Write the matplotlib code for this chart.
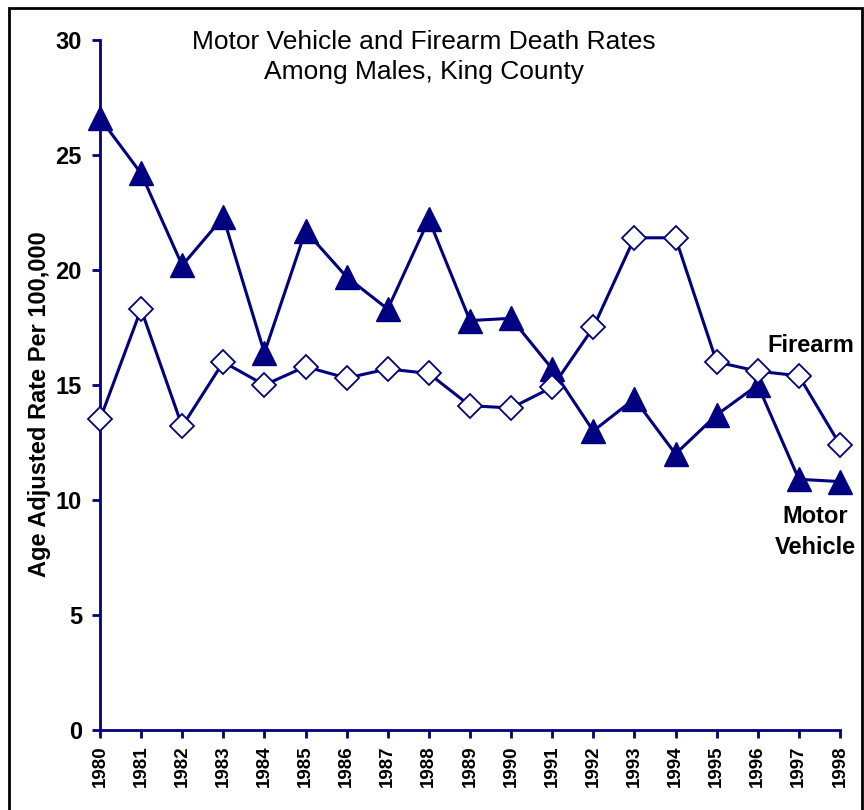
import matplotlib.pyplot as plt
from matplotlib.patches import Rectangle

plt.rcParams['font.family'] = ['Liberation Sans', 'DejaVu Sans']

years = list(range(1980, 1999))
motor_vehicle = [26.6, 24.2, 20.2, 22.3, 16.4, 21.7, 19.7, 18.3, 22.2, 17.8,
                 17.9, 15.7, 13.0, 14.4, 12.0, 13.7, 15.0, 10.9, 10.8]
firearm = [13.5, 18.3, 13.2, 16.0, 15.0, 15.8, 15.3, 15.7, 15.5, 14.1,
           14.0, 14.9, 17.5, 21.4, 21.4, 16.0, 15.6, 15.4, 12.4]

navy = '#000080'

fig = plt.figure(figsize=(8.64, 8.1), dpi=100)
ax = fig.add_axes([0.1157, 0.0988, 0.8565, 0.8518])

ax.plot(years, motor_vehicle, color=navy, lw=2.2, marker='^', ms=17,
        mfc=navy, mec=navy, clip_on=False, zorder=3)
ax.plot(years, firearm, color=navy, lw=2.2, marker='D', ms=12,
        mfc='white', mec=navy, mew=1.3, clip_on=False, zorder=3)

ax.set_xlim(1980, 1998)
ax.set_ylim(0, 30)
ax.set_xticks(years)
ax.set_xticklabels([str(y) for y in years], rotation=90, fontsize=13.5,
                   fontweight='bold')
ax.set_yticks([0, 5, 10, 15, 20, 25, 30])
ax.set_yticklabels(['0', '5', '10', '15', '20', '25', '30'], fontsize=17,
                   fontweight='bold')
ax.tick_params(axis='both', colors=navy, width=2, length=6, direction='out',
               labelcolor='black', pad=5)
ax.tick_params(axis='y', pad=7)

for side in ['top', 'right']:
    ax.spines[side].set_visible(False)
for side in ['left', 'bottom']:
    ax.spines[side].set_color(navy)
    ax.spines[side].set_linewidth(2)

ax.set_ylabel('Age Adjusted Rate Per 100,000', fontsize=17, fontweight='bold')
ax.yaxis.set_label_coords(-0.066, 0.4725)

ax.text(0.438, 1.014, 'Motor Vehicle and Firearm Death Rates\nAmong Males, King County',
        transform=ax.transAxes, ha='center', va='top', fontsize=19,
        linespacing=1.3)
ax.text(1997.28, 16.2, 'Firearm', ha='center', va='bottom', fontsize=17,
        fontweight='bold')
ax.text(1997.4, 9.8, 'Motor\nVehicle', ha='center', va='top', fontsize=17,
        fontweight='bold', linespacing=1.45)

fig.patches.append(Rectangle((0.01, -0.01), 0.988, 1.0, transform=fig.transFigure,
                             fill=False, edgecolor='black', lw=2))

fig.savefig('out.png', dpi=100)
